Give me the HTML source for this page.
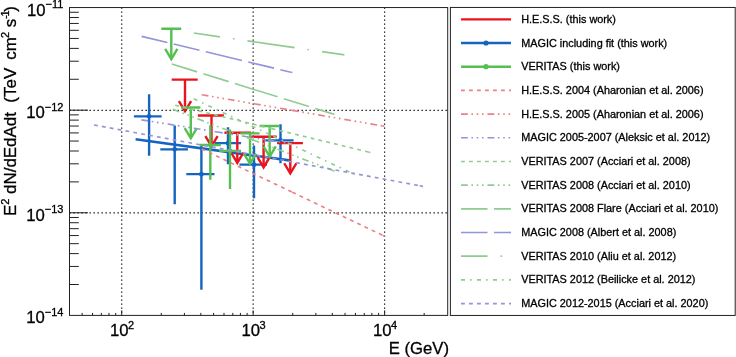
<!DOCTYPE html><html><head><meta charset="utf-8"><style>html,body{margin:0;padding:0;background:#fff}body{width:736px;height:357px;position:relative;overflow:hidden;font-family:"Liberation Sans",sans-serif}</style></head><body><svg width="736" height="357" viewBox="0 0 736 357" style="position:absolute;left:0;top:0;will-change:transform;opacity:0.999">
<rect width="736" height="357" fill="#fff"/>
<g stroke="#000" stroke-width="1.2" stroke-dasharray="1.3 2.7" fill="none">
<line x1="121.70" y1="7.55" x2="121.70" y2="315.4"/>
<line x1="253.15" y1="7.55" x2="253.15" y2="315.4"/>
<line x1="384.60" y1="7.55" x2="384.60" y2="315.4"/>
<line x1="69.5" y1="110.32" x2="447.7" y2="110.32"/>
<line x1="69.5" y1="212.93" x2="447.7" y2="212.93"/>
</g>
<clipPath id="c"><rect x="69.5" y="7.55" width="378.2" height="307.84999999999997"/></clipPath><g clip-path="url(#c)" fill="none"><g transform="translate(0,0.35)">
<line x1="135.60" y1="138.90" x2="291.00" y2="160.30" stroke="#1464c0" stroke-width="2.6" />
<line x1="133.90" y1="116.00" x2="161.60" y2="116.00" stroke="#1464c0" stroke-width="2.4" />
<line x1="149.10" y1="93.90" x2="149.10" y2="155.40" stroke="#1464c0" stroke-width="2.4" />
<circle cx="149.1" cy="116.0" r="2.4" fill="#1464c0"/>
<line x1="160.30" y1="149.00" x2="188.00" y2="149.00" stroke="#1464c0" stroke-width="2.4" />
<line x1="174.70" y1="125.10" x2="174.70" y2="204.00" stroke="#1464c0" stroke-width="2.4" />
<circle cx="174.7" cy="149" r="2.4" fill="#1464c0"/>
<line x1="186.30" y1="173.80" x2="214.50" y2="173.80" stroke="#1464c0" stroke-width="2.4" />
<line x1="201.40" y1="145.50" x2="201.40" y2="289.30" stroke="#1464c0" stroke-width="2.4" />
<circle cx="201.4" cy="173.8" r="2.4" fill="#1464c0"/>
<line x1="214.80" y1="142.80" x2="241.10" y2="142.80" stroke="#1464c0" stroke-width="2.4" />
<line x1="228.00" y1="127.00" x2="228.00" y2="163.80" stroke="#1464c0" stroke-width="2.4" />
<circle cx="228" cy="142.8" r="2.4" fill="#1464c0"/>
<line x1="239.40" y1="164.30" x2="267.00" y2="164.30" stroke="#1464c0" stroke-width="2.4" />
<line x1="254.00" y1="145.20" x2="254.00" y2="198.00" stroke="#1464c0" stroke-width="2.4" />
<circle cx="254" cy="164.3" r="2.4" fill="#1464c0"/>
<line x1="265.30" y1="140.00" x2="293.60" y2="140.00" stroke="#1464c0" stroke-width="2.4" />
<line x1="280.50" y1="123.90" x2="280.50" y2="163.00" stroke="#1464c0" stroke-width="2.4" />
<circle cx="280.5" cy="140" r="2.4" fill="#1464c0"/>
<line x1="171.70" y1="79.30" x2="197.70" y2="79.30" stroke="#e8141e" stroke-width="2.4" />
<line x1="185.00" y1="79.30" x2="185.00" y2="110.00" stroke="#e8141e" stroke-width="2.4" />
<polyline points="178.90,100.70 185.00,110.90 191.10,100.70" stroke="#e8141e" stroke-width="2.4" fill="none" stroke-linejoin="miter"/>
<line x1="197.90" y1="115.10" x2="223.90" y2="115.10" stroke="#e8141e" stroke-width="2.4" />
<line x1="211.50" y1="115.10" x2="211.50" y2="145.00" stroke="#e8141e" stroke-width="2.4" />
<polyline points="205.40,135.70 211.50,145.90 217.60,135.70" stroke="#e8141e" stroke-width="2.4" fill="none" stroke-linejoin="miter"/>
<line x1="224.40" y1="132.40" x2="251.00" y2="132.40" stroke="#e8141e" stroke-width="2.4" />
<line x1="237.30" y1="132.40" x2="237.30" y2="161.70" stroke="#e8141e" stroke-width="2.4" />
<polyline points="231.20,152.40 237.30,162.60 243.40,152.40" stroke="#e8141e" stroke-width="2.4" fill="none" stroke-linejoin="miter"/>
<line x1="251.30" y1="136.40" x2="276.80" y2="136.40" stroke="#e8141e" stroke-width="2.4" />
<line x1="263.60" y1="136.40" x2="263.60" y2="166.10" stroke="#e8141e" stroke-width="2.4" />
<polyline points="257.50,156.80 263.60,167.00 269.70,156.80" stroke="#e8141e" stroke-width="2.4" fill="none" stroke-linejoin="miter"/>
<line x1="277.10" y1="142.80" x2="302.90" y2="142.80" stroke="#e8141e" stroke-width="2.4" />
<line x1="290.30" y1="142.80" x2="290.30" y2="172.20" stroke="#e8141e" stroke-width="2.4" />
<polyline points="284.20,162.90 290.30,173.10 296.40,162.90" stroke="#e8141e" stroke-width="2.4" fill="none" stroke-linejoin="miter"/>
<line x1="199.60" y1="144.70" x2="220.90" y2="144.70" stroke="#55c050" stroke-width="2.4" />
<line x1="210.30" y1="124.90" x2="210.30" y2="179.30" stroke="#55c050" stroke-width="2.4" />
<circle cx="210.3" cy="144.7" r="2.4" fill="#55c050"/>
<line x1="219.20" y1="150.50" x2="241.00" y2="150.50" stroke="#55c050" stroke-width="2.4" />
<line x1="230.00" y1="129.10" x2="230.00" y2="188.60" stroke="#55c050" stroke-width="2.4" />
<circle cx="230" cy="150.5" r="2.4" fill="#55c050"/>
<line x1="161.30" y1="28.40" x2="181.20" y2="28.40" stroke="#55c050" stroke-width="2.4" />
<line x1="171.30" y1="28.40" x2="171.30" y2="57.90" stroke="#55c050" stroke-width="2.4" />
<polyline points="165.20,48.60 171.30,58.80 177.40,48.60" stroke="#55c050" stroke-width="2.4" fill="none" stroke-linejoin="miter"/>
<line x1="181.10" y1="107.20" x2="200.40" y2="107.20" stroke="#55c050" stroke-width="2.4" />
<line x1="190.80" y1="107.20" x2="190.80" y2="137.00" stroke="#55c050" stroke-width="2.4" />
<polyline points="184.70,127.70 190.80,137.90 196.90,127.70" stroke="#55c050" stroke-width="2.4" fill="none" stroke-linejoin="miter"/>
<line x1="240.20" y1="133.00" x2="259.50" y2="133.00" stroke="#55c050" stroke-width="2.4" />
<line x1="250.00" y1="133.00" x2="250.00" y2="162.50" stroke="#55c050" stroke-width="2.4" />
<polyline points="243.90,153.20 250.00,163.40 256.10,153.20" stroke="#55c050" stroke-width="2.4" fill="none" stroke-linejoin="miter"/>
<line x1="259.60" y1="125.60" x2="279.30" y2="125.60" stroke="#55c050" stroke-width="2.4" />
<line x1="269.70" y1="125.60" x2="269.70" y2="155.40" stroke="#55c050" stroke-width="2.4" />
<polyline points="263.60,146.10 269.70,156.30 275.80,146.10" stroke="#55c050" stroke-width="2.4" fill="none" stroke-linejoin="miter"/>
<line x1="201.70" y1="148.60" x2="292.33" y2="191.86" stroke="#ec8084" stroke-width="1.65" stroke-dasharray="3.8 4.2" />
<line x1="292.33" y1="191.86" x2="382.95" y2="235.12" stroke="#ec8084" stroke-width="1.65" stroke-dasharray="3.8 4.2" />
<line x1="382.95" y1="235.12" x2="384.80" y2="236.00" stroke="#ec8084" stroke-width="1.65" stroke-dasharray="3.8 4.2" />
<line x1="201.70" y1="94.40" x2="292.08" y2="109.99" stroke="#ec8084" stroke-width="1.65" stroke-dasharray="6.8 3.6 1.6 3.7 1.6 3.7 1.6 3.9" />
<line x1="292.08" y1="109.99" x2="382.46" y2="125.58" stroke="#ec8084" stroke-width="1.65" stroke-dasharray="6.8 3.6 1.6 3.7 1.6 3.7 1.6 3.9" />
<line x1="382.46" y1="125.58" x2="384.30" y2="125.90" stroke="#ec8084" stroke-width="1.65" stroke-dasharray="6.8 3.6 1.6 3.7 1.6 3.7 1.6 3.9" />
<line x1="141.40" y1="119.50" x2="215.94" y2="131.43" stroke="#9494da" stroke-width="1.65" stroke-dasharray="6.8 3.6 1.6 3.7 1.6 3.7 1.6 3.9" />
<line x1="215.94" y1="131.43" x2="290.48" y2="143.36" stroke="#9494da" stroke-width="1.65" stroke-dasharray="6.8 3.6 1.6 3.7 1.6 3.7 1.6 3.9" />
<line x1="290.48" y1="143.36" x2="292.00" y2="143.60" stroke="#9494da" stroke-width="1.65" stroke-dasharray="6.8 3.6 1.6 3.7 1.6 3.7 1.6 3.9" />
<line x1="175.20" y1="104.90" x2="271.76" y2="128.26" stroke="#90cc90" stroke-width="1.65" stroke-dasharray="3.8 4.2" />
<line x1="271.76" y1="128.26" x2="368.33" y2="151.62" stroke="#90cc90" stroke-width="1.65" stroke-dasharray="3.8 4.2" />
<line x1="368.33" y1="151.62" x2="370.30" y2="152.10" stroke="#90cc90" stroke-width="1.65" stroke-dasharray="3.8 4.2" />
<line x1="172.70" y1="108.90" x2="252.78" y2="139.49" stroke="#90cc90" stroke-width="1.65" stroke-dasharray="6.8 3.6 1.6 3.7 1.6 3.7 1.6 3.9" />
<line x1="252.78" y1="139.49" x2="332.87" y2="170.08" stroke="#90cc90" stroke-width="1.65" stroke-dasharray="6.8 3.6 1.6 3.7 1.6 3.7 1.6 3.9" />
<line x1="332.87" y1="170.08" x2="334.50" y2="170.70" stroke="#90cc90" stroke-width="1.65" stroke-dasharray="6.8 3.6 1.6 3.7 1.6 3.7 1.6 3.9" />
<line x1="171.80" y1="63.70" x2="252.23" y2="88.60" stroke="#90cc90" stroke-width="1.65" stroke-dasharray="26.5 6.5" />
<line x1="252.23" y1="88.60" x2="332.66" y2="113.49" stroke="#90cc90" stroke-width="1.65" stroke-dasharray="26.5 6.5" />
<line x1="332.66" y1="113.49" x2="334.30" y2="114.00" stroke="#90cc90" stroke-width="1.65" stroke-dasharray="26.5 6.5" />
<line x1="141.60" y1="36.00" x2="216.19" y2="53.92" stroke="#9494da" stroke-width="1.65" stroke-dasharray="26.5 6.5" />
<line x1="216.19" y1="53.92" x2="290.78" y2="71.83" stroke="#9494da" stroke-width="1.65" stroke-dasharray="26.5 6.5" />
<line x1="290.78" y1="71.83" x2="292.30" y2="72.20" stroke="#9494da" stroke-width="1.65" stroke-dasharray="26.5 6.5" />
<line x1="193.80" y1="32.70" x2="268.34" y2="43.49" stroke="#90cc90" stroke-width="1.65" stroke-dasharray="26.5 13.0 1.6 13.1" />
<line x1="268.34" y1="43.49" x2="342.88" y2="54.28" stroke="#90cc90" stroke-width="1.65" stroke-dasharray="26.5 13.0 1.6 13.1" />
<line x1="342.88" y1="54.28" x2="344.40" y2="54.50" stroke="#90cc90" stroke-width="1.65" stroke-dasharray="26.5 13.0 1.6 13.1" />
<line x1="193.80" y1="98.50" x2="273.34" y2="135.87" stroke="#90cc90" stroke-width="1.65" stroke-dasharray="4 5.1 1.6 5.3" />
<line x1="273.34" y1="135.87" x2="352.88" y2="173.24" stroke="#90cc90" stroke-width="1.65" stroke-dasharray="4 5.1 1.6 5.3" />
<line x1="352.88" y1="173.24" x2="354.50" y2="174.00" stroke="#90cc90" stroke-width="1.65" stroke-dasharray="4 5.1 1.6 5.3" />
<line x1="94.00" y1="124.60" x2="256.84" y2="154.99" stroke="#9494da" stroke-width="1.65" stroke-dasharray="3.8 4.2" />
<line x1="256.84" y1="154.99" x2="419.68" y2="185.38" stroke="#9494da" stroke-width="1.65" stroke-dasharray="3.8 4.2" />
<line x1="419.68" y1="185.38" x2="423.00" y2="186.00" stroke="#9494da" stroke-width="1.65" stroke-dasharray="3.8 4.2" />
</g></g>
<rect x="69.5" y="7.55" width="378.2" height="307.84999999999997" fill="none" stroke="#222" stroke-width="1"/>
<g stroke="#222" stroke-width="1">
<line x1="69.5" y1="284.51" x2="78.8" y2="284.51"/>
<line x1="69.5" y1="266.44" x2="78.8" y2="266.44"/>
<line x1="69.5" y1="253.62" x2="78.8" y2="253.62"/>
<line x1="69.5" y1="243.67" x2="78.8" y2="243.67"/>
<line x1="69.5" y1="235.55" x2="78.8" y2="235.55"/>
<line x1="69.5" y1="228.68" x2="78.8" y2="228.68"/>
<line x1="69.5" y1="222.73" x2="78.8" y2="222.73"/>
<line x1="69.5" y1="217.48" x2="78.8" y2="217.48"/>
<line x1="69.5" y1="212.78" x2="88.0" y2="212.78"/>
<line x1="69.5" y1="181.89" x2="78.8" y2="181.89"/>
<line x1="69.5" y1="163.82" x2="78.8" y2="163.82"/>
<line x1="69.5" y1="151.00" x2="78.8" y2="151.00"/>
<line x1="69.5" y1="141.06" x2="78.8" y2="141.06"/>
<line x1="69.5" y1="132.93" x2="78.8" y2="132.93"/>
<line x1="69.5" y1="126.06" x2="78.8" y2="126.06"/>
<line x1="69.5" y1="120.11" x2="78.8" y2="120.11"/>
<line x1="69.5" y1="114.86" x2="78.8" y2="114.86"/>
<line x1="69.5" y1="110.17" x2="88.0" y2="110.17"/>
<line x1="69.5" y1="79.28" x2="78.8" y2="79.28"/>
<line x1="69.5" y1="61.21" x2="78.8" y2="61.21"/>
<line x1="69.5" y1="48.39" x2="78.8" y2="48.39"/>
<line x1="69.5" y1="38.44" x2="78.8" y2="38.44"/>
<line x1="69.5" y1="30.32" x2="78.8" y2="30.32"/>
<line x1="69.5" y1="23.45" x2="78.8" y2="23.45"/>
<line x1="69.5" y1="17.49" x2="78.8" y2="17.49"/>
<line x1="69.5" y1="12.25" x2="78.8" y2="12.25"/>
<line x1="82.13" y1="315.4" x2="82.13" y2="312.9"/>
<line x1="92.54" y1="315.4" x2="92.54" y2="312.9"/>
<line x1="101.34" y1="315.4" x2="101.34" y2="312.9"/>
<line x1="108.96" y1="315.4" x2="108.96" y2="312.9"/>
<line x1="115.69" y1="315.4" x2="115.69" y2="312.9"/>
<line x1="121.70" y1="315.4" x2="121.70" y2="310.4"/>
<line x1="161.27" y1="315.4" x2="161.27" y2="312.9"/>
<line x1="184.42" y1="315.4" x2="184.42" y2="312.9"/>
<line x1="200.84" y1="315.4" x2="200.84" y2="312.9"/>
<line x1="213.58" y1="315.4" x2="213.58" y2="312.9"/>
<line x1="223.99" y1="315.4" x2="223.99" y2="312.9"/>
<line x1="232.79" y1="315.4" x2="232.79" y2="312.9"/>
<line x1="240.41" y1="315.4" x2="240.41" y2="312.9"/>
<line x1="247.14" y1="315.4" x2="247.14" y2="312.9"/>
<line x1="253.15" y1="315.4" x2="253.15" y2="310.4"/>
<line x1="292.72" y1="315.4" x2="292.72" y2="312.9"/>
<line x1="315.87" y1="315.4" x2="315.87" y2="312.9"/>
<line x1="332.29" y1="315.4" x2="332.29" y2="312.9"/>
<line x1="345.03" y1="315.4" x2="345.03" y2="312.9"/>
<line x1="355.44" y1="315.4" x2="355.44" y2="312.9"/>
<line x1="364.24" y1="315.4" x2="364.24" y2="312.9"/>
<line x1="371.86" y1="315.4" x2="371.86" y2="312.9"/>
<line x1="378.59" y1="315.4" x2="378.59" y2="312.9"/>
<line x1="384.60" y1="315.4" x2="384.60" y2="310.4"/>
<line x1="424.17" y1="315.4" x2="424.17" y2="312.9"/>
</g>
<g font-family="Liberation Sans, sans-serif" fill="#000" stroke="#000" stroke-width="0.3">
<text x="63.4" y="323.40" text-anchor="end" font-size="16.7">10<tspan font-size="11" dy="-7.6">−14</tspan></text>
<text x="63.4" y="220.78" text-anchor="end" font-size="16.7">10<tspan font-size="11" dy="-7.6">−13</tspan></text>
<text x="63.4" y="118.17" text-anchor="end" font-size="16.7">10<tspan font-size="11" dy="-7.6">−12</tspan></text>
<text x="63.4" y="15.55" text-anchor="end" font-size="16.7">10<tspan font-size="11" dy="-7.6">−11</tspan></text>
<text x="110.10" y="336" font-size="16.7">10<tspan font-size="11" dy="-7.5" dx="-0.6">2</tspan></text>
<text x="241.55" y="336" font-size="16.7">10<tspan font-size="11" dy="-7.5" dx="-0.6">3</tspan></text>
<text x="373.00" y="336" font-size="16.7">10<tspan font-size="11" dy="-7.5" dx="-0.6">4</tspan></text>
<text x="449" y="353.8" text-anchor="end" font-size="16.7">E (GeV)</text>
<text transform="translate(16.2,216.1) rotate(-90)" font-size="16.95" xml:space="preserve">E<tspan font-size="11" dy="-7.5">2</tspan><tspan dy="7.5"> dN/dEdAdt  (TeV</tspan><tspan dx="3.3"> cm</tspan><tspan font-size="11" dy="-7.3" dx="-0.9">2</tspan><tspan dy="7.3" dx="0"> s</tspan><tspan font-size="11" dy="-7.3" letter-spacing="-1.4">-1</tspan><tspan dy="7.3">)</tspan></text>
</g>
<rect x="450.4" y="7.45" width="284.80000000000007" height="307.99999999999994" fill="#fff" stroke="#222" stroke-width="1"/>
<g font-family="Liberation Sans, sans-serif" fill="#000" stroke="#000" stroke-width="0.3" font-size="10.86">
<line x1="461.00" y1="19.34" x2="511.00" y2="19.34" stroke="#e8141e" stroke-width="2.4" />
<text x="521.2" y="22.84">H.E.S.S. (this work)</text>
<line x1="461.00" y1="43.02" x2="511.00" y2="43.02" stroke="#1464c0" stroke-width="2.4" />
<circle cx="486" cy="43.02" r="2.6" fill="#1464c0" stroke="none"/>
<text x="521.2" y="46.52">MAGIC including fit (this work)</text>
<line x1="461.00" y1="66.71" x2="511.00" y2="66.71" stroke="#55c050" stroke-width="2.4" />
<circle cx="486" cy="66.71" r="2.6" fill="#55c050" stroke="none"/>
<text x="521.2" y="70.21">VERITAS (this work)</text>
<line x1="461.00" y1="90.39" x2="511.00" y2="90.39" stroke="#ec8084" stroke-width="1.65" stroke-dasharray="3.8 4.2" />
<text x="521.2" y="93.89">H.E.S.S. 2004 (Aharonian et al. 2006)</text>
<line x1="461.00" y1="114.08" x2="511.00" y2="114.08" stroke="#ec8084" stroke-width="1.65" stroke-dasharray="6.8 3.6 1.6 3.7 1.6 3.7 1.6 3.9" />
<text x="521.2" y="117.58">H.E.S.S. 2005 (Aharonian et al. 2006)</text>
<line x1="461.00" y1="137.76" x2="511.00" y2="137.76" stroke="#9494da" stroke-width="1.65" stroke-dasharray="6.8 3.6 1.6 3.7 1.6 3.7 1.6 3.9" />
<text x="521.2" y="141.26">MAGIC 2005-2007 (Aleksic et al. 2012)</text>
<line x1="461.00" y1="161.45" x2="511.00" y2="161.45" stroke="#90cc90" stroke-width="1.65" stroke-dasharray="3.8 4.2" />
<text x="521.2" y="164.95">VERITAS 2007 (Acciari et al. 2008)</text>
<line x1="461.00" y1="185.13" x2="511.00" y2="185.13" stroke="#90cc90" stroke-width="1.65" stroke-dasharray="6.8 3.6 1.6 3.7 1.6 3.7 1.6 3.9" />
<text x="521.2" y="188.63">VERITAS 2008 (Acciari et al. 2010)</text>
<line x1="461.00" y1="208.82" x2="511.00" y2="208.82" stroke="#90cc90" stroke-width="1.65" stroke-dasharray="26.5 6.5" />
<text x="521.2" y="212.32">VERITAS 2008 Flare (Acciari et al. 2010)</text>
<line x1="461.00" y1="232.50" x2="511.00" y2="232.50" stroke="#9494da" stroke-width="1.65" stroke-dasharray="26.5 6.5" />
<text x="521.2" y="236.00">MAGIC 2008 (Albert et al. 2008)</text>
<line x1="461.00" y1="256.19" x2="511.00" y2="256.19" stroke="#90cc90" stroke-width="1.65" stroke-dasharray="26.5 13.0 1.6 13.1" />
<text x="521.2" y="259.69">VERITAS 2010 (Aliu et al. 2012)</text>
<line x1="461.00" y1="279.87" x2="511.00" y2="279.87" stroke="#90cc90" stroke-width="1.65" stroke-dasharray="4 5.1 1.6 5.3" />
<text x="521.2" y="283.37">VERITAS 2012 (Beilicke et al. 2012)</text>
<line x1="461.00" y1="303.56" x2="511.00" y2="303.56" stroke="#9494da" stroke-width="1.65" stroke-dasharray="3.8 4.2" />
<text x="521.2" y="307.06">MAGIC 2012-2015 (Acciari et al. 2020)</text>
</g>
</svg></body></html>
